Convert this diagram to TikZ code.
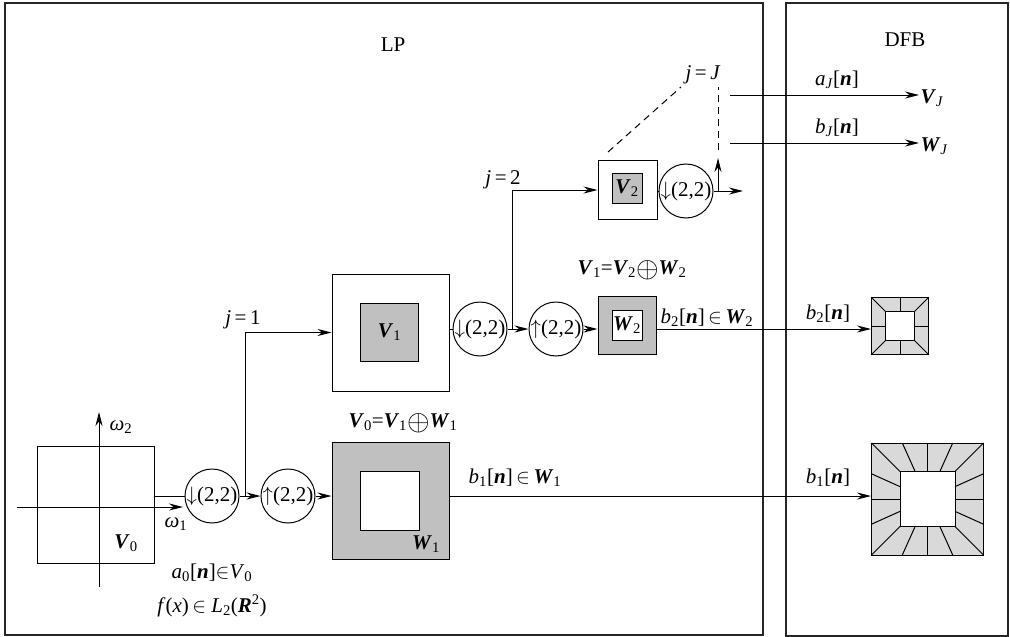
\documentclass[tikz,border=0pt]{standalone}
\usepackage{fontspec}
\setmainfont{Liberation Serif}
\usetikzlibrary{arrows.meta}
\definecolor{midgray}{RGB}{192,192,192}
\definecolor{lightgray2}{RGB}{217,217,217}
\newcommand{\bi}[1]{\textbf{\textit{#1}}}
\newcommand{\lsub}[1]{\textsubscript{#1}}
\newcommand{\bigop}{\raisebox{-0.12em}{\scalebox{1.4}{$\oplus$}}}
\begin{document}
\begin{tikzpicture}[x=1pt,y=-1pt,
  font=\fontsize{21}{25}\selectfont,
  line width=1pt,
  >={Stealth[length=14pt,width=7pt]},
  frame/.style={draw, line width=1.2pt, black!85},
  sq/.style={draw, inner sep=0pt, minimum size=#1},
  rs/.style={draw, circle, inner sep=0pt, minimum size=54pt},
  lbl/.style={inner sep=1pt},
  dsh/.style={dash pattern=on 7pt off 5pt}
]
\useasboundingbox (0,0) rectangle (1010,637);
% frames
\draw[frame] (5,3) rectangle (763,635);
\draw[frame] (786,3) rectangle (1008,636);
\node[lbl] (lp) at (393,45) {LP};
\node[lbl] (dfb) at (905,40) {DFB};

% V0 spectrum square and axes
\node[sq=117pt] (V0) at (95.5,504.5) {};
\coordinate (ax1s) at (17,507);
\coordinate (ax1e) at (183,507);
\coordinate (ax2s) at (99,587);
\coordinate (ax2e) at (99,412);
\draw[->] (ax1s) -- (ax1e);
\draw[->] (ax2s) -- (ax2e);
\node[lbl] (w2) at (121,427) {\textit{ω}\lsub{2}};
\node[lbl] (w1) at (176,524) {\textit{ω}\lsub{1}};
\node[lbl] (V0l) at (126,543) {\bi{V}\lsub{0}};
\node[lbl] (a0) at (212,573) {\textit{a}\lsub{0}[\bi{n}]$\in$\textit{V}\lsub{0}};
\node[lbl] (fx) at (212,606) {\textit{f}(\textit{x})$\,\in$ \textit{L}\lsub{2}(\bi{R}\textsuperscript{2})};

% level 1
\node[rs] (c1) at (212,496) {$\downarrow$(2,2)};
\node[rs] (c2) at (288,496) {$\uparrow$(2,2)};
\node[sq=117pt, fill=midgray] (W1) at (390.5,500.5) {};
\node[sq=59pt, fill=white] (W1in) at (389.5,500.5) {};
\node[lbl] (W1l) at (426,544) {\bi{W}\lsub{1}};
\node[lbl] (eq1) at (403,423) {\bi{V}\lsub{0}=\bi{V}\lsub{1}\bigop\bi{W}\lsub{1}};
\coordinate (b1) at (245,496);
\draw (V0.east |- c1) -- (c1);
\draw[->] (c1) -- (c2);
\draw[->] (c2) -- (c2 -| W1.west);

% level 2
\node[sq=117pt] (V1) at (390.5,332.5) {};
\node[sq=58pt, fill=midgray] (V1in) at (389.5,332) {\bi{V}\lsub{1}};
\node[lbl] (j1) at (243,320) {\textit{j}\,=\,1};
\draw[->] (b1) |- (V1.west);
\node[rs] (c3) at (480,329) {$\downarrow$(2,2)};
\node[rs] (c4) at (556,329) {$\uparrow$(2,2)};
\node[sq=58pt, fill=midgray] (W2) at (627,325) {};
\node[sq=30pt, fill=white] (W2in) at (627,325) {\bi{W}\lsub{2}};
\node[lbl] (eq2) at (632,270) {\bi{V}\lsub{1}=\bi{V}\lsub{2}\bigop\bi{W}\lsub{2}};
\coordinate (b2) at (512,329);
\draw (V1.east |- c3) -- (c3);
\draw[->] (c3) -- (c4);
\draw[->] (c4) -- (c4 -| W2.west);

% level J
\node[sq=59pt] (V2) at (627.5,190) {};
\node[sq=30pt, fill=midgray] (V2in) at (627,188) {\bi{V}\lsub{2}};
\node[lbl] (j2) at (503,180) {\textit{j}\,=\,2};
\draw[->] (b2) |- (V2.west);
\node[rs] (c5) at (686,191) {$\downarrow$(2,2)};
\draw (V2.east |- c5) -- (c5);
\coordinate (b3) at (718,191);
\coordinate (e3) at (743,191);
\coordinate (t3) at (718,158);
\draw[->] (c5) -- (e3);
\draw[->] (b3) -- (t3);
\coordinate (dv1) at (718,150);
\coordinate (dv2) at (718,87);
\draw[dsh] (dv1) -- (dv2);
\coordinate (dd1) at (608,152);
\coordinate (dd2) at (681,87);
\draw[dsh] (dd1) -- (dd2);
\node[lbl] (jJ) at (703,75) {\textit{j}\,=\,\textit{J}};

% outputs to DFB
\node[lbl, anchor=west] (VJ) at (919,98) {\bi{V}\lsub{\textit{J}}};
\node[lbl, anchor=west] (WJ) at (919,146) {\bi{W}\lsub{\textit{J}}};
\coordinate (aJs) at (730,95);
\coordinate (bJs) at (730,143);
\draw[->] (aJs) -- (aJs -| VJ.west);
\draw[->] (bJs) -- (bJs -| WJ.west);
\node[lbl] (aJ) at (837,80) {\textit{a}\lsub{\textit{J}}[\bi{n}]};
\node[lbl] (bJ) at (837,128) {\textit{b}\lsub{\textit{J}}[\bi{n}]};

% DFB wedge squares
\node[sq=57pt, fill=lightgray2] (d2) at (900,326) {};
\node[sq=112pt, fill=lightgray2] (d1) at (927.5,499) {};
\foreach \r in {0,90,180,270}{
  \begin{scope}[shift={(d2.center)}, rotate=\r]
    \foreach \t in {-1,0}{
      \draw (14.5,\t*14.5) -- (28.5,\t*28.5);
    }
  \end{scope}
  \begin{scope}[shift={(d1.center)}, rotate=\r]
    \foreach \t in {-1,-0.45,0,0.45}{
      \draw (27.5,\t*27.5) -- (56,\t*56);
    }
  \end{scope}
}
\node[sq=29pt, fill=white] (d2in) at (d2.center) {};
\node[sq=55pt, fill=white] (d1in) at (d1.center) {};

\draw[->] (W2.east |- c4) -- (c4 -| d2.west);
\draw[->] (W1.east |- c2) -- (c2 -| d1.west);
\node[lbl] (b2l) at (707,318) {\textit{b}\lsub{2}[\bi{n}]$\,\in$\,\bi{W}\lsub{2}};
\node[lbl] (b2r) at (828,314) {\textit{b}\lsub{2}[\bi{n}]};
\node[lbl] (b1l) at (515,478) {\textit{b}\lsub{1}[\bi{n}]$\,\in$\,\bi{W}\lsub{1}};
\node[lbl] (b1r) at (828,478) {\textit{b}\lsub{1}[\bi{n}]};
\end{tikzpicture}
\end{document}
